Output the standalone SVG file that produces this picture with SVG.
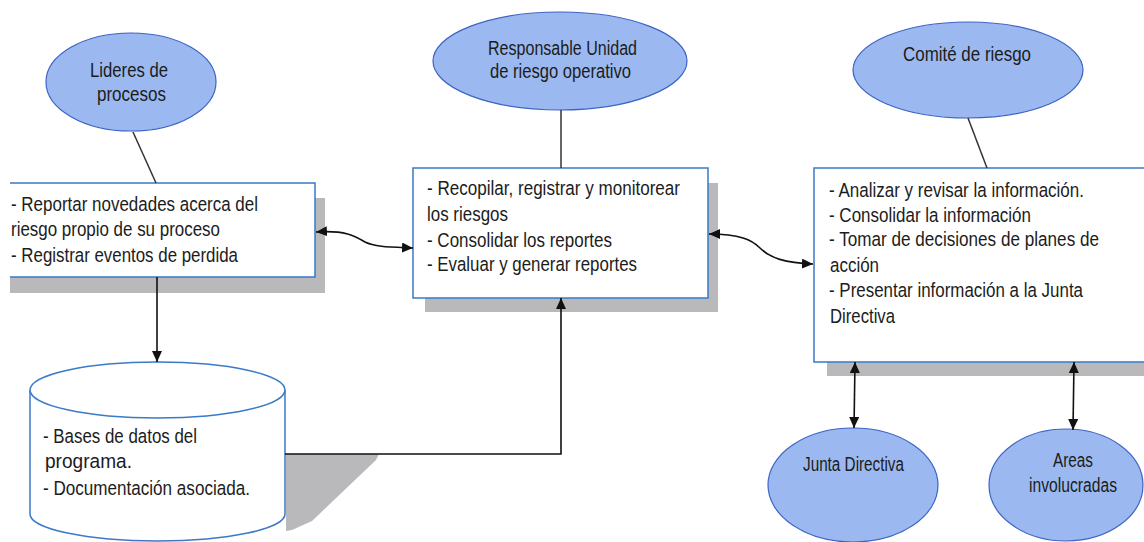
<svg xmlns="http://www.w3.org/2000/svg" width="1144" height="542" viewBox="0 0 1144 542">
  <defs>
    <marker id="arrow" markerUnits="userSpaceOnUse" markerWidth="11" markerHeight="10" refX="11" refY="5" orient="auto-start-reverse">
      <path d="M0,0 L11,5 L0,10 z" fill="#111"/>
    </marker>
    <style>
      .actor { fill: #9bb9f0; stroke: #3d63c4; stroke-width: 1.2; }
      .box { fill: #ffffff; stroke: #3a7ac8; stroke-width: 1.5; }
      .shadow { fill: #b9b9bb; }
      .link { fill: none; stroke: #333; stroke-width: 1.5; }
      .flow { fill: none; stroke: #111; stroke-width: 1.6; }
      .t { font-family: "Liberation Sans", Arial, sans-serif; font-size: 20.5px; fill: #1c1c1c; }
      .s { font-family: "Liberation Sans", Arial, sans-serif; font-size: 19.5px; fill: #1c1c1c; }
    </style>
  </defs>

  <rect width="1144" height="542" fill="#ffffff"/>

  <!-- process leaders -->
  <g id="lideres">
    <ellipse class="actor" cx="131" cy="82" rx="85" ry="49"/>
    <text class="s" x="90" y="77" textLength="78" lengthAdjust="spacingAndGlyphs">Lideres de</text>
    <text class="s" x="97" y="101" textLength="69" lengthAdjust="spacingAndGlyphs">procesos</text>
  </g>

  <g id="tareas-lideres">
    <rect class="shadow" x="10" y="198" width="315" height="95"/>
    <rect x="10" y="183" width="305" height="94" fill="#ffffff"/>
    <path class="box" d="M10,183 H315 V277 H10"/>
    <text class="t" x="11" y="211" textLength="247" lengthAdjust="spacingAndGlyphs">- Reportar novedades acerca del</text>
    <text class="t" x="11" y="236" textLength="209" lengthAdjust="spacingAndGlyphs">riesgo propio de su proceso</text>
    <text class="t" x="11" y="262" textLength="227" lengthAdjust="spacingAndGlyphs">- Registrar eventos de perdida</text>
  </g>

  <!-- operational risk unit -->
  <g id="responsable">
    <ellipse class="actor" cx="560" cy="61" rx="127" ry="49"/>
    <text class="s" x="488" y="55" textLength="149" lengthAdjust="spacingAndGlyphs">Responsable Unidad</text>
    <text class="s" x="490" y="78" textLength="141" lengthAdjust="spacingAndGlyphs">de riesgo operativo</text>
  </g>

  <g id="tareas-responsable">
    <rect class="shadow" x="425" y="183" width="293" height="129"/>
    <rect class="box" x="413" y="168" width="295" height="130"/>
    <text class="t" x="427" y="195" textLength="253" lengthAdjust="spacingAndGlyphs">- Recopilar, registrar y monitorear</text>
    <text class="t" x="427" y="221" textLength="81" lengthAdjust="spacingAndGlyphs">los riesgos</text>
    <text class="t" x="427" y="247" textLength="185" lengthAdjust="spacingAndGlyphs">- Consolidar los reportes</text>
    <text class="t" x="427" y="271" textLength="210" lengthAdjust="spacingAndGlyphs">- Evaluar y generar reportes</text>
  </g>

  <!-- risk committee -->
  <g id="comite">
    <ellipse class="actor" cx="968" cy="70" rx="115" ry="48"/>
    <text class="s" x="903" y="61" textLength="128" lengthAdjust="spacingAndGlyphs">Comité de riesgo</text>
  </g>

  <g id="tareas-comite">
    <rect class="shadow" x="827" y="183" width="317" height="193"/>
    <rect x="814" y="168" width="330" height="194" fill="#ffffff"/>
    <path class="box" d="M1144,168 H814 V362 H1144"/>
    <text class="t" x="829" y="197" textLength="255" lengthAdjust="spacingAndGlyphs">- Analizar y revisar la información.</text>
    <text class="t" x="829" y="222" textLength="202" lengthAdjust="spacingAndGlyphs">- Consolidar la información</text>
    <text class="t" x="829" y="246" textLength="270" lengthAdjust="spacingAndGlyphs">- Tomar de decisiones de planes de</text>
    <text class="t" x="830" y="272" textLength="49" lengthAdjust="spacingAndGlyphs">acción</text>
    <text class="t" x="829" y="297" textLength="254" lengthAdjust="spacingAndGlyphs">- Presentar información a la Junta</text>
    <text class="t" x="830" y="323" textLength="65" lengthAdjust="spacingAndGlyphs">Directiva</text>
  </g>

  <!-- program database -->
  <g id="base-datos">
    <path class="shadow" d="M286,454 H379 L376,460 L312,521 L292,530 L286,531 z"/>
    <path fill="#ffffff" stroke="#3a7ac8" stroke-width="1.5" d="M30,390 V514 A127.5,27 0 0 0 285,514 V390"/>
    <ellipse fill="#ffffff" stroke="#3a7ac8" stroke-width="1.5" cx="157.5" cy="390" rx="127.5" ry="28"/>
    <text class="t" x="43" y="443" textLength="154" lengthAdjust="spacingAndGlyphs">- Bases de datos del</text>
    <text class="t" x="45" y="468" textLength="87" lengthAdjust="spacingAndGlyphs">programa.</text>
    <text class="t" x="43" y="495" textLength="207" lengthAdjust="spacingAndGlyphs">- Documentación asociada.</text>
  </g>

  <!-- board of directors -->
  <g id="junta">
    <ellipse class="actor" cx="853" cy="485" rx="85" ry="57"/>
    <text class="s" x="803" y="471" textLength="101" lengthAdjust="spacingAndGlyphs">Junta Directiva</text>
  </g>

  <!-- involved areas -->
  <g id="areas">
    <ellipse class="actor" cx="1066" cy="485" rx="77" ry="56"/>
    <text class="s" x="1053" y="467" textLength="40" lengthAdjust="spacingAndGlyphs">Areas</text>
    <text class="s" x="1029" y="492" textLength="88" lengthAdjust="spacingAndGlyphs">involucradas</text>
  </g>

  <!-- connectors, drawn above the shapes and their shadows -->
  <g id="connectors">
    <line class="link" x1="133" y1="132" x2="156" y2="183"/>
    <line class="link" x1="561" y1="110" x2="561" y2="168"/>
    <line class="link" x1="968" y1="118" x2="987" y2="168"/>
    <line class="flow" x1="157" y1="277" x2="157" y2="362" marker-end="url(#arrow)"/>
    <path class="flow" d="M285,454 L561,454 L561,298" marker-end="url(#arrow)"/>
    <path class="flow" d="M316,232 C345,230 355,236 365,242 C375,247 390,247 413,248" marker-start="url(#arrow)" marker-end="url(#arrow)"/>
    <path class="flow" d="M709,234 C740,234 752,240 760,248 C770,258 785,263 813,264" marker-start="url(#arrow)" marker-end="url(#arrow)"/>
    <line class="flow" x1="855" y1="362" x2="854" y2="428" marker-start="url(#arrow)" marker-end="url(#arrow)"/>
    <line class="flow" x1="1074" y1="362" x2="1073" y2="430" marker-start="url(#arrow)" marker-end="url(#arrow)"/>
  </g>
</svg>
